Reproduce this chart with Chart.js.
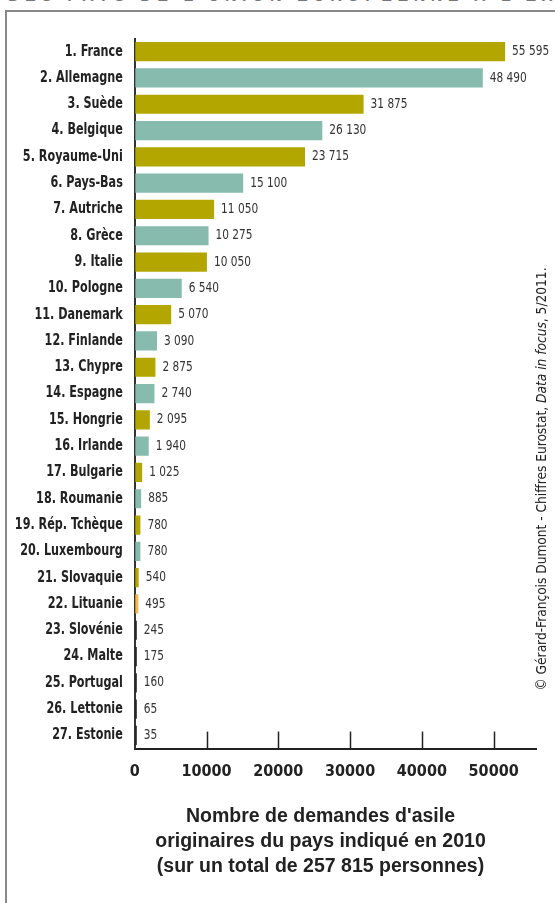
<!DOCTYPE html>
<html lang="fr">
<head>
<meta charset="utf-8">
<title>Demandes d'asile 2010</title>
<script src="https://cdn.jsdelivr.net/npm/chart.js@4/dist/chart.umd.min.js"></script>
<style>
  html, body { margin: 0; padding: 0; background: #fff; }
  body { width: 555px; height: 903px; position: relative; overflow: hidden; }
  #heading {
    position: absolute; left: 8px; top: -13px; white-space: nowrap;
    font: bold 16px 'Liberation Sans', Arial, sans-serif; letter-spacing: 5.5px; color: #777;
  }
  #frameTop { position: absolute; left: 5px; top: 10px; width: 550px; height: 2px; background: #888; }
  #frameLeft { position: absolute; left: 5px; top: 10px; width: 2px; height: 893px; background: #888; }
  #chartBox { position: absolute; left: 0; top: 0; width: 555px; height: 903px; }
  #caption {
    position: absolute; left: 120px; top: 803px; width: 401px; text-align: center;
    font: bold 19.5px 'Liberation Sans', Arial, sans-serif; line-height: 25px; color: #222;
  }
  #source {
    position: absolute; left: 322px; top: 470px; width: 440px; height: 18px; line-height: 18px;
    text-align: center; white-space: nowrap; transform: rotate(-90deg);
    font: 13.6px 'DejaVu Sans Condensed', sans-serif; color: #222;
  }
</style>
</head>
<body>
<div id="heading">DES PAYS DE L'UNION EUROPÉENNE À L'EXTÉRIEUR</div>
<div id="frameTop"></div>
<div id="frameLeft"></div>
<div id="chartBox"><canvas id="asylumChart"></canvas></div>
<div id="caption">Nombre de demandes d'asile<br>originaires du pays indiqué en 2010<br>(sur un total de 257 815 personnes)</div>
<div id="source">© Gérard-François Dumont - Chiffres Eurostat, <i>Data in focus</i>, 5/2011.</div>

<script>
// data
const countries = [
    '1. France', '2. Allemagne', '3. Suède', '4. Belgique', '5. Royaume-Uni',
    '6. Pays-Bas', '7. Autriche', '8. Grèce', '9. Italie', '10. Pologne',
    '11. Danemark', '12. Finlande', '13. Chypre', '14. Espagne', '15. Hongrie',
    '16. Irlande', '17. Bulgarie', '18. Roumanie', '19. Rép. Tchèque', '20. Luxembourg',
    '21. Slovaquie', '22. Lituanie', '23. Slovénie', '24. Malte', '25. Portugal',
    '26. Lettonie', '27. Estonie'
];
const requests = [
    55595, 48490, 31875, 26130, 23715,
    15100, 11050, 10275, 10050, 6540,
    5070, 3090, 2875, 2740, 2095,
    1940, 1025, 885, 780, 780,
    540, 495, 245, 175, 160,
    65, 35
];
const barColors = [
    '#b3a600', '#86bbae', '#b3a600', '#86bbae', '#b3a600',
    '#86bbae', '#b3a600', '#86bbae', '#b3a600', '#86bbae',
    '#b3a600', '#86bbae', '#b3a600', '#86bbae', '#b3a600',
    '#86bbae', '#b3a600', '#86bbae', '#b3a600', '#86bbae',
    '#b3a600', '#f5b74e', '#222222', '#222222', '#222222',
    '#222222', '#222222'
];
const xTicks = [0, 10000, 20000, 30000, 40000, 50000];
const xMax = 56000;
// the France bar is cut short in the original so its label still fits
const barCap = 51600;

const condensed = "'DejaVu Sans Condensed', 'Liberation Sans Narrow', sans-serif";

function formatFr(v) {
    return String(v).replace(/\B(?=(\d{3})+(?!\d))/g, ' ');
}

// draw text squeezed horizontally, the original uses a very narrow face
function squeezedText(ctx, text, x, y, squeeze) {
    ctx.save();
    ctx.translate(x, y);
    ctx.scale(squeeze, 1);
    ctx.fillText(text, 0, 0);
    ctx.restore();
}

// small upward tick marks on the x axis
const tickMarks = {
    id: 'tickMarks',
    afterDraw(chart) {
        const { ctx, chartArea, scales } = chart;
        ctx.save();
        ctx.strokeStyle = '#222';
        ctx.lineWidth = 1.5;
        xTicks.forEach(v => {
            if (v === 0) return;
            const x = Math.round(scales.x.getPixelForValue(v)) + 0.5;
            ctx.beginPath();
            ctx.moveTo(x, chartArea.bottom);
            ctx.lineTo(x, chartArea.bottom - 17);
            ctx.stroke();
        });
        ctx.restore();
    }
};

// country names, right aligned against the y axis
const countryLabels = {
    id: 'countryLabels',
    afterDraw(chart) {
        const { ctx, scales } = chart;
        ctx.save();
        ctx.font = 'bold 15px ' + condensed;
        ctx.fillStyle = '#222';
        ctx.textAlign = 'right';
        ctx.textBaseline = 'middle';
        countries.forEach((name, i) => {
            squeezedText(ctx, name, scales.y.left + scales.y.width - 12, scales.y.getPixelForValue(i), 0.83);
        });
        ctx.restore();
    }
};

// value written at the end of each bar
const valueLabels = {
    id: 'valueLabels',
    afterDatasetsDraw(chart) {
        const { ctx } = chart;
        const meta = chart.getDatasetMeta(0);
        const squeeze = 0.84;
        ctx.save();
        ctx.font = '14px ' + condensed;
        ctx.fillStyle = '#333';
        ctx.textBaseline = 'middle';
        meta.data.forEach((bar, i) => {
            const text = formatFr(requests[i]);
            const w = ctx.measureText(text).width * squeeze;
            let x = bar.x + 7;
            if (x + w > chart.width - 3) x = chart.width - 3 - w;
            squeezedText(ctx, text, x, bar.y, squeeze);
        });
        ctx.restore();
    }
};

new Chart(document.getElementById('asylumChart'), {
    type: 'bar',
    data: {
        labels: countries,
        datasets: [{
            data: requests.map(v => Math.min(v, barCap)),
            backgroundColor: barColors,
            borderWidth: 0,
            minBarLength: 2,
            categoryPercentage: 1,
            barPercentage: 0.73
        }]
    },
    options: {
        indexAxis: 'y',
        responsive: true,
        maintainAspectRatio: false,
        animation: false,
        layout: { padding: { top: 38.5, right: 18.3, left: 0, bottom: 114.4 } },
        plugins: {
            legend: { display: false },
            tooltip: { enabled: false }
        },
        scales: {
            x: {
                type: 'linear',
                min: 0,
                max: xMax,
                afterBuildTicks: scale => { scale.ticks = xTicks.map(v => ({ value: v })); },
                afterFit: scale => { scale.height = 40; },
                ticks: {
                    font: { family: condensed, size: 16, weight: 'bold' },
                    color: '#222',
                    padding: 14,
                    maxRotation: 0,
                    callback: v => String(v)
                },
                grid: { display: true, drawOnChartArea: false, drawTicks: false },
                border: { display: true, color: '#222', width: 2 }
            },
            y: {
                afterFit: scale => { scale.width = 134.8; },
                ticks: { display: false },
                grid: { display: true, drawOnChartArea: false, drawTicks: false },
                border: { display: true, color: '#333', width: 2 }
            }
        }
    },
    plugins: [tickMarks, countryLabels, valueLabels]
});
</script>
</body>
</html>
